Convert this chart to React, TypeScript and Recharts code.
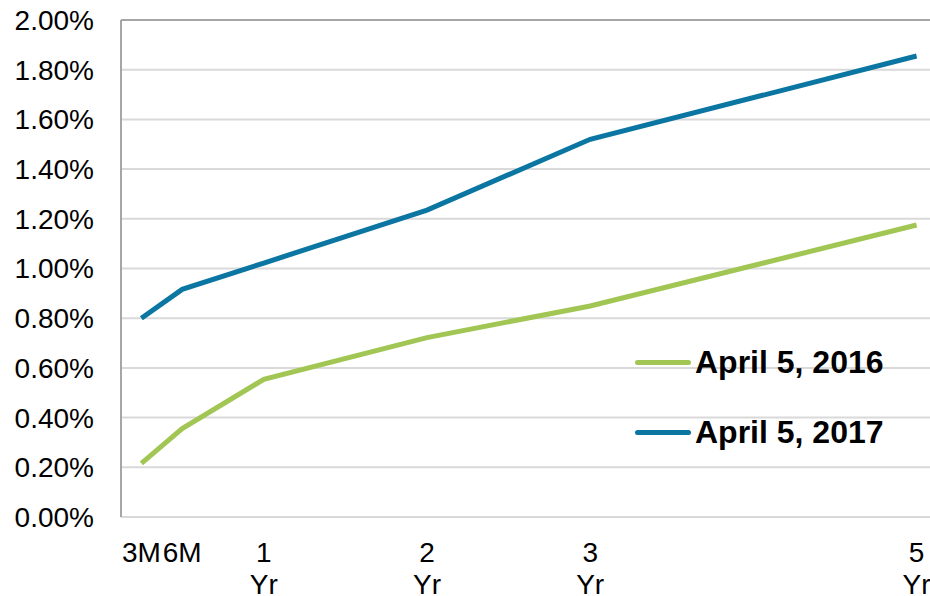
import React from "react";
import { LineChart, Line, XAxis, YAxis, CartesianGrid, ReferenceLine } from "recharts";

const tenors = [0.25, 0.5, 1, 2, 3, 5];
const tenorLabels: string[][] = [["3M"], ["6M"], ["1", "Yr"], ["2", "Yr"], ["3", "Yr"], ["5", "Yr"]];
const seriesNames = ["April 5, 2016", "April 5, 2017"];
const yields2016 = [0.216, 0.356, 0.554, 0.722, 0.849, 1.175];
const yields2017 = [0.8, 0.916, 1.022, 1.235, 1.52, 1.855];
const yTicks = [0, 0.2, 0.4, 0.6, 0.8, 1.0, 1.2, 1.4, 1.6, 1.8, 2.0];

const colors = ["#a1c654", "#0b76a2"];

const data = tenors.map((t, i) => ({ t, s2016: yields2016[i], s2017: yields2017[i] }));

const FONT = "Liberation Sans, Arial, sans-serif";

const XTick = (props: any) => {
  const { x, y, payload } = props;
  const idx = tenors.indexOf(payload.value);
  const lines = idx >= 0 ? tenorLabels[idx] : [];
  return (
    <text x={x} y={y} textAnchor="middle" fontFamily={FONT} fontSize={28} fill="#000">
      {lines.map((l, i) => (
        <tspan key={i} x={x} dy={i === 0 ? 37 : 32}>
          {l}
        </tspan>
      ))}
    </text>
  );
};

export default function App() {
  return (
    <div style={{ position: "absolute", left: 0, top: 0, width: 930, height: 596, overflow: "hidden", background: "#fff" }}>
      <LineChart width={942} height={596} data={data} margin={{ top: 20, right: 5, bottom: 0, left: 0 }}>
        <CartesianGrid vertical={false} stroke="#d9d9d9" strokeWidth={2} />
        <ReferenceLine y={2.0} stroke="#a6a6a6" strokeWidth={2} />
        <XAxis
          dataKey="t"
          type="number"
          domain={[0.125, 5.125]}
          ticks={tenors}
          interval={0}
          height={79}
          tickLine={false}
          axisLine={{ stroke: "#d9d9d9", strokeWidth: 2 }}
          tick={<XTick />}
        />
        <YAxis
          type="number"
          domain={[0, 2]}
          ticks={yTicks}
          interval={0}
          width={121}
          tickLine={false}
          tickSize={0}
          tickMargin={27}
          axisLine={{ stroke: "#a6a6a6", strokeWidth: 2 }}
          tick={{ fontFamily: FONT, fontSize: 28, fill: "#000" }}
          tickFormatter={(v: number) => `${v.toFixed(2)}%`}
        />
        <Line
          dataKey="s2016"
          name={seriesNames[0]}
          stroke={colors[0]}
          strokeWidth={5}
          dot={false}
          isAnimationActive={false}
        />
        <Line
          dataKey="s2017"
          name={seriesNames[1]}
          stroke={colors[1]}
          strokeWidth={5}
          dot={false}
          isAnimationActive={false}
        />
      </LineChart>
      <div style={{ position: "absolute", left: 635, top: 343, width: 300, height: 120 }}>
        {seriesNames.map((name, i) => (
          <div
            key={name}
            style={{
              position: "absolute",
              left: 0,
              top: i * 70,
              height: 38,
              display: "flex",
              alignItems: "center",
              fontFamily: FONT,
              fontWeight: "bold",
              fontSize: 32,
              color: "#000",
              whiteSpace: "nowrap",
            }}
          >
            <span style={{ display: "inline-block", width: 56, height: 5, borderRadius: 3, background: colors[i], marginRight: 4 }} />
            <span>{name}</span>
          </div>
        ))}
      </div>
    </div>
  );
}
